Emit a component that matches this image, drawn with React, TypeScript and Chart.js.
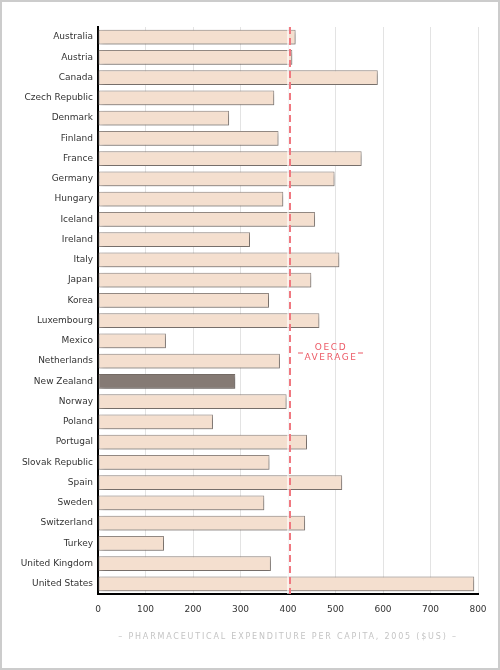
import React, { useEffect, useRef } from "react";
import { Chart, registerables } from "chart.js";

Chart.register(...registerables);

const countries: string[] = [
  "Australia", "Austria", "Canada", "Czech Republic", "Denmark", "Finland", "France",
  "Germany", "Hungary", "Iceland", "Ireland", "Italy", "Japan", "Korea", "Luxembourg",
  "Mexico", "Netherlands", "New Zealand", "Norway", "Poland", "Portugal",
  "Slovak Republic", "Spain", "Sweden", "Switzerland", "Turkey", "United Kingdom",
  "United States",
];
const expenditure: number[] = [
  416, 409, 589, 371, 276, 380, 555,
  498, 390, 457, 320, 508, 449, 360, 466,
  143, 383, 289, 397, 242, 440,
  361, 514, 350, 436, 139, 364,
  792,
];
const highlightCountry = "New Zealand";
const oecdAverage = 405;
const oecdLabelLines: string[] = ["OECD", "AVERAGE"];
const oecdLabelPosition = 15.5; // between Mexico and Netherlands rows
const axisTitle = "– PHARMACEUTICAL EXPENDITURE PER CAPITA, 2005 ($US) –";
const xMin = 0;
const xMax = 800;
const xStep = 100;

const FONT = "'DejaVu Sans', Verdana, sans-serif";

export default function App() {
  const canvasRef = useRef<HTMLCanvasElement | null>(null);

  useEffect(() => {
    document.body.style.margin = "0";
    const canvas = canvasRef.current;
    if (!canvas) return;

    const shadowPlugin = {
      id: "barShadow",
      beforeDatasetsDraw(chart: any) {
        const ctx = chart.ctx;
        ctx.save();
        ctx.shadowColor = "rgba(0,0,0,0.32)";
        ctx.shadowBlur = 5;
        ctx.shadowOffsetX = 2;
        ctx.shadowOffsetY = 2;
      },
      afterDatasetsDraw(chart: any) {
        chart.ctx.restore();
      },
    };

    const oecdPlugin = {
      id: "oecdLine",
      afterDatasetsDraw(chart: any) {
        const ctx = chart.ctx;
        const area = chart.chartArea;
        const xs = chart.scales.x;
        const ys = chart.scales.y;
        const x = Math.round(xs.getPixelForValue(oecdAverage));
        ctx.save();
        ctx.strokeStyle = "rgba(255,255,255,0.8)";
        ctx.lineWidth = 1.5;
        ctx.beginPath();
        ctx.moveTo(x - 2, area.top);
        ctx.lineTo(x - 2, area.bottom);
        ctx.stroke();
        ctx.strokeStyle = "#f07880";
        ctx.lineWidth = 2;
        ctx.setLineDash([7, 4]);
        ctx.beginPath();
        ctx.moveTo(x, area.top);
        ctx.lineTo(x, area.bottom);
        ctx.stroke();
        ctx.setLineDash([]);

        const yc = ys.getPixelForValue(oecdLabelPosition) + 2;
        ctx.fillStyle = "#ec5a66";
        ctx.font = `9px ${FONT}`;
        ctx.textAlign = "center";
        ctx.textBaseline = "middle";
        (ctx as any).letterSpacing = "1.6px";
        const cx = x + 40;
        ctx.fillText(oecdLabelLines[0], cx + 1, yc - 5);
        ctx.fillText(oecdLabelLines[1], cx + 1, yc + 5);
        (ctx as any).letterSpacing = "0px";
        ctx.fillRect(x + 8, yc - 0.5, 5, 1);
        ctx.fillRect(x + 68, yc - 0.5, 5, 1);
        ctx.restore();
      },
    };

    const titlePlugin = {
      id: "axisTitleSpaced",
      afterDraw(chart: any) {
        const ctx = chart.ctx;
        const area = chart.chartArea;
        ctx.save();
        ctx.fillStyle = "#c4c4c4";
        ctx.font = `8px ${FONT}`;
        (ctx as any).letterSpacing = "1.8px";
        ctx.textAlign = "center";
        ctx.textBaseline = "middle";
        ctx.fillText(axisTitle, (area.left + area.right) / 2, area.bottom + 43);
        ctx.restore();
      },
    };

    const chart = new Chart(canvas, {
      type: "bar",
      data: {
        labels: countries,
        datasets: [
          {
            data: expenditure,
            backgroundColor: countries.map((c) => (c === highlightCountry ? "#857a74" : "#f4dfcf")),
            borderColor: countries.map((c) => (c === highlightCountry ? "#7a706a" : "#9a908a")),
            borderWidth: 1,
            borderSkipped: false,
            categoryPercentage: 1,
            barPercentage: 0.73,
          },
        ],
      },
      options: {
        indexAxis: "y",
        animation: false,
        responsive: true,
        maintainAspectRatio: false,
        layout: { padding: { top: 25, right: 20, left: 0, bottom: 0 } },
        plugins: {
          legend: { display: false },
          tooltip: { enabled: false },
        },
        scales: {
          x: {
            min: xMin,
            max: xMax,
            ticks: {
              stepSize: xStep,
              color: "#333333",
              font: { family: FONT, size: 9 },
              padding: 10,
            },
            grid: { color: "#e3e3e3", lineWidth: 1, drawTicks: false },
            border: { color: "#000000", width: 2 },
            afterFit(scale: any) {
              scale.height = 74;
            },
          },
          y: {
            ticks: {
              color: "#333333",
              font: { family: FONT, size: 9 },
              padding: 5,
              autoSkip: false,
            },
            grid: { display: false, drawTicks: false },
            border: { color: "#000000", width: 2 },
            afterFit(scale: any) {
              scale.width = 96;
            },
          },
        },
      },
      plugins: [shadowPlugin, oecdPlugin, titlePlugin],
    });

    return () => chart.destroy();
  }, []);

  return (
    <div
      style={{
        width: 500,
        height: 670,
        boxSizing: "border-box",
        border: "2px solid #cccccc",
        background: "#ffffff",
      }}
    >
      <div style={{ position: "relative", width: 496, height: 666 }}>
        <canvas ref={canvasRef} />
      </div>
    </div>
  );
}
